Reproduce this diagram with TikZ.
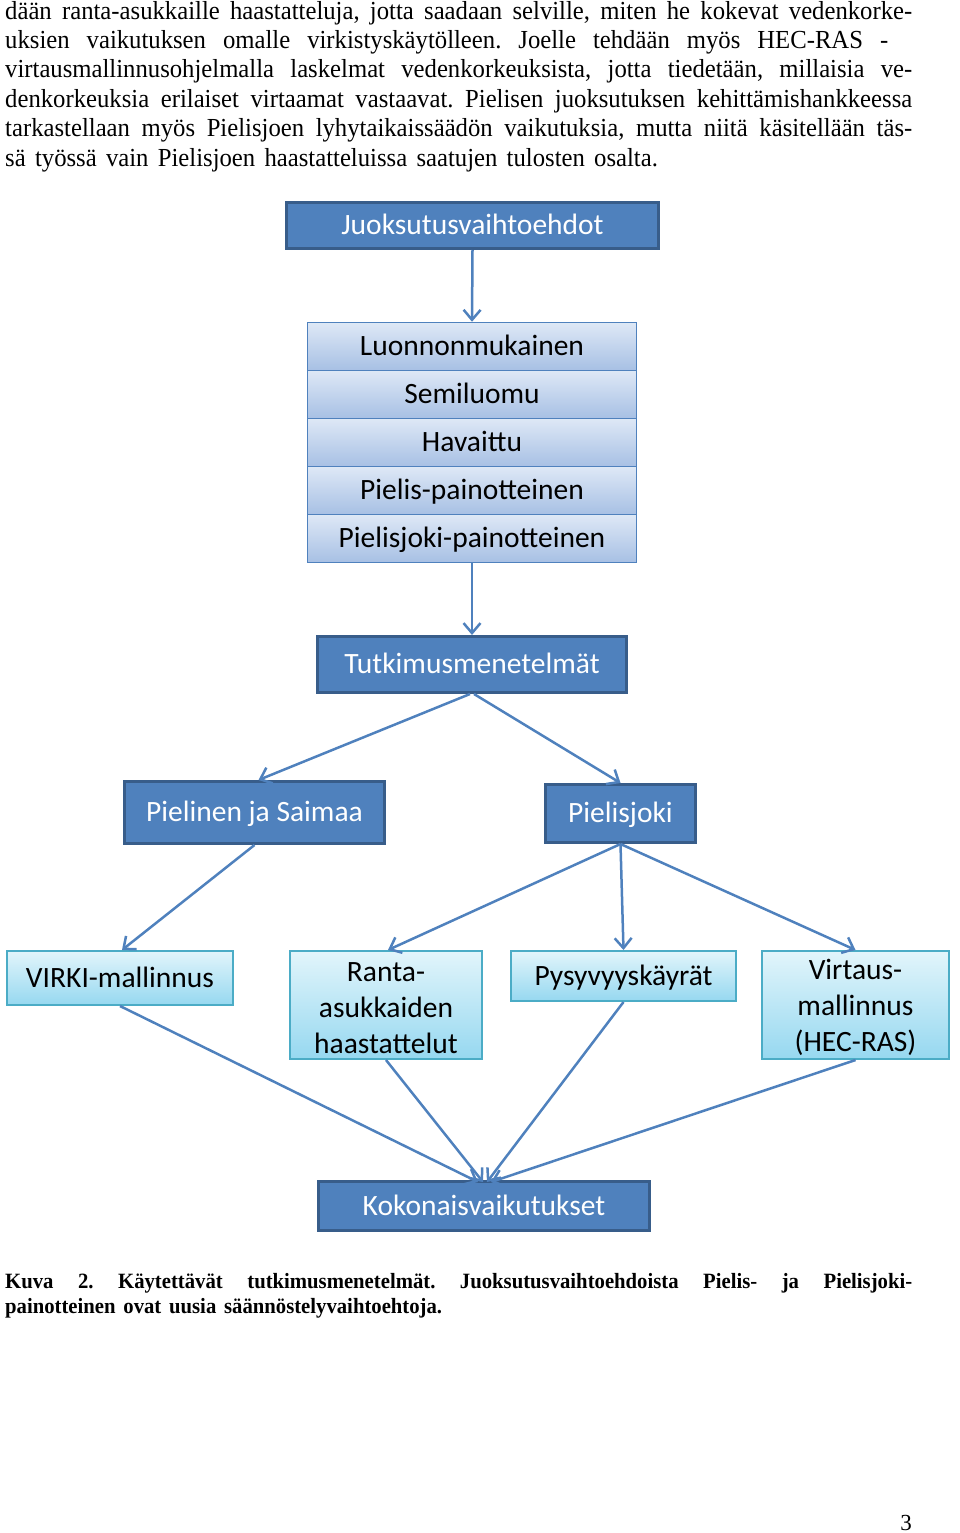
\documentclass[tikz,border=0pt]{standalone}
\usepackage{fontspec}
\setmainfont{Liberation Serif}
\newfontfamily\bodyfont[FakeStretch=0.95, WordSpace=1.5]{Liberation Serif}
\newfontfamily\boxfont{Carlito}
\usetikzlibrary{arrows.meta}
\frenchspacing
\definecolor{dkblue}{RGB}{79,129,189}
\definecolor{dkedge}{RGB}{56,93,138}
\definecolor{listtop}{RGB}{222,232,246}
\definecolor{listbot}{RGB}{167,192,228}
\definecolor{aquatop}{RGB}{226,245,251}
\definecolor{aquabot}{RGB}{150,216,240}
\definecolor{aquaedge}{RGB}{75,172,198}
\tikzset{
  onel/.style={text height=25pt, text depth=7pt},
  darkbox/.style={rectangle, fill=dkblue, draw=dkedge, line width=3pt, text=white,
    font=\boxfont\fontsize{29.5}{36}\selectfont, inner sep=0pt, onel},
  listrow/.style={rectangle, top color=listtop, bottom color=listbot, draw=dkblue,
    line width=1.5pt, text=black, minimum width=329pt, minimum height=48pt,
    font=\boxfont\fontsize{29.5}{36}\selectfont, inner sep=0pt, onel},
  aquabox/.style={rectangle, top color=aquatop, bottom color=aquabot, draw=aquaedge,
    line width=2pt, text=black, align=center,
    font=\boxfont\fontsize{29.5}{36}\selectfont, inner sep=0pt},
  conn/.style={draw=dkblue, line width=2.5pt, -{Straight Barb[length=10pt,width=17pt]}},
  bodyline/.style={anchor=base west, inner sep=0pt, font=\bodyfont\fontsize{26}{29.5}\selectfont},
  capline/.style={anchor=base west, inner sep=0pt, font=\bodyfont\bfseries\fontsize{21.8}{25}\selectfont}
}
\begin{document}
\begin{tikzpicture}[x=1pt,y=-1pt]
\useasboundingbox (0,0) rectangle (960,1533);
% body text
\node[bodyline] (t1) at (5,20) {\makebox[907pt][s]{dään ranta-asukkaille haastatteluja, jotta saadaan selville, miten he kokevat vedenkorke-}};
\node[bodyline] (t2) at (5,49) {\makebox[883pt][s]{uksien vaikutuksen omalle virkistyskäytölleen. Joelle tehdään myös HEC-RAS -}};
\node[bodyline] (t3) at (5,78) {\makebox[907pt][s]{virtausmallinnusohjelmalla laskelmat vedenkorkeuksista, jotta tiedetään, millaisia ve-}};
\node[bodyline] (t4) at (5,108) {\makebox[907pt][s]{denkorkeuksia erilaiset virtaamat vastaavat. Pielisen juoksutuksen kehittämishankkeessa}};
\node[bodyline] (t5) at (5,137) {\makebox[907pt][s]{tarkastellaan myös Pielisjoen lyhytaikaissäädön vaikutuksia, mutta niitä käsitellään täs-}};
\node[bodyline] (t6) at (5,167) {sä työssä vain Pielisjoen haastatteluissa saatujen tulosten osalta.};

% boxes
\node[darkbox, minimum width=372pt, minimum height=46pt] (juok) at (472.5,225.5) {Juoksutusvaihtoehdot};
\node[listrow] (r1) at (472,346.5) {Luonnonmukainen};
\node[listrow] (r2) at (472,394.5) {Semiluomu};
\node[listrow] (r3) at (472,442.5) {Havaittu};
\node[listrow] (r4) at (472,490.5) {Pielis-painotteinen};
\node[listrow] (r5) at (472,538.5) {Pielisjoki-painotteinen};
\node[darkbox, minimum width=309pt, minimum height=56pt] (tut) at (472,664.5) {Tutkimusmenetelmät};
\node[darkbox, minimum width=260pt, minimum height=62pt] (pie) at (254.5,812.5) {Pielinen ja Saimaa};
\node[darkbox, minimum width=150pt, minimum height=58pt] (pjo) at (620.5,813.5) {Pielisjoki};
\node[aquabox, onel, minimum width=226pt, minimum height=54pt] (virki) at (120,978) {VIRKI-mallinnus};
\node[aquabox, minimum width=192pt, minimum height=108pt] (ranta) at (386,1005) {\rule{0pt}{26pt}Ranta-\\asukkaiden\\haastattelut};
\node[aquabox, onel, minimum width=225pt, minimum height=50pt] (pysy) at (623.5,976) {Pysyvyyskäyrät};
\node[aquabox, minimum width=187pt, minimum height=108pt] (virt) at (855.5,1005) {\rule{0pt}{26pt}Virtaus-\\mallinnus\\(HEC-RAS)};
\node[darkbox, minimum width=331pt, minimum height=49pt] (koko) at (484,1206) {Kokonaisvaikutukset};

% connectors
\draw[conn] (juok.south) -- (r1.north);
\draw[conn] (r5.south) -- (tut.north);
\draw[conn] ([xshift=-2pt]tut.south) -- ([xshift=4pt]pie.north);
\draw[conn] ([xshift=2pt]tut.south) -- (pjo.north);
\draw[conn] (pie.south) -- ([xshift=2pt]virki.north);
\draw[conn] (pjo.south) -- ([xshift=2pt]ranta.north);
\draw[conn] (pjo.south) -- (pysy.north);
\draw[conn] (pjo.south) -- (virt.north);
\draw[conn] (virki.south) -- ([xshift=-6pt,yshift=-2pt]koko.north);
\draw[conn] (ranta.south) -- ([xshift=-1pt,yshift=-2pt]koko.north);
\draw[conn] (pysy.south) -- ([xshift=3pt,yshift=-2pt]koko.north);
\draw[conn] (virt.south) -- ([xshift=7pt,yshift=-2pt]koko.north);

% caption
\node[capline] (c1) at (5,1288) {\makebox[907pt][s]{Kuva 2. Käytettävät tutkimusmenetelmät. Juoksutusvaihtoehdoista Pielis- ja Pielisjoki-}};
\node[capline] (c2) at (5,1313) {painotteinen ovat uusia säännöstelyvaihtoehtoja.};
\node[anchor=base, inner sep=0pt, font=\fontsize{23}{26}\selectfont] (pg) at (906,1530) {3};
\end{tikzpicture}
\end{document}
